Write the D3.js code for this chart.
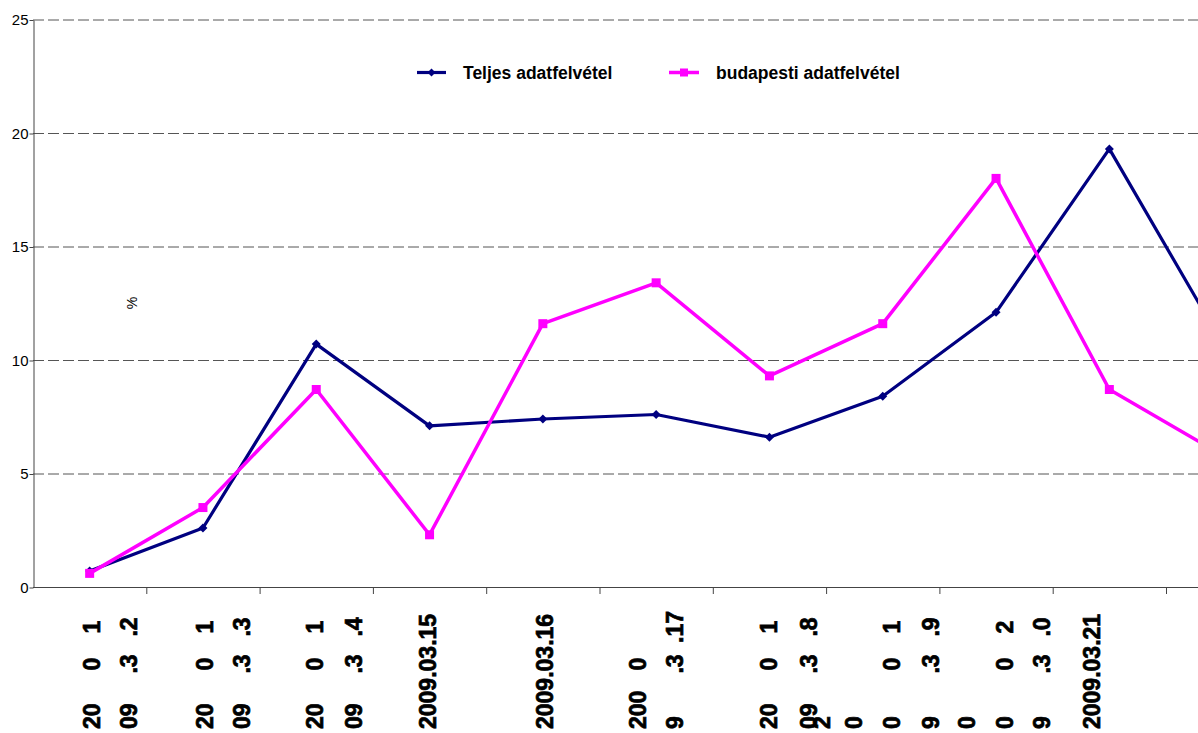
<!DOCTYPE html>
<html>
<head>
<meta charset="utf-8">
<script src="https://cdn.jsdelivr.net/npm/d3@7"></script>
<style>
  html, body { margin: 0; padding: 0; background: #fff; }
  svg { display: block; font-family: "Liberation Sans", Arial, sans-serif; }
</style>
</head>
<body>
<svg width="1198" height="733"></svg>
<script>
/* ===============================
   Data
   =============================== */
const categories = ["2009.03.12", "2009.03.13", "2009.03.14", "2009.03.15", "2009.03.16",
    "2009.03.17", "2009.03.18", "2009.03.19", "2009.03.20", "2009.03.21", "2009.03.22"];

const teljes = [0.7, 2.6, 10.7, 7.1, 7.4, 7.6, 6.6, 8.4, 12.1, 19.3, 10.7];
const budapesti = [0.6, 3.5, 8.7, 2.3, 11.6, 13.4, 9.3, 11.6, 18.0, 8.7, 5.8];

const yTicks = [0, 5, 10, 15, 20, 25];

// broken-up axis labels as they show: each line is [bottom, middle, top]
// (the last category sits outside the picture, so its label is not shown)
const tickLabels = [
    [["20", "0", "1"], ["09", ".3", ".2"]],
    [["20", "0", "1"], ["09", ".3", ".3"]],
    [["20", "0", "1"], ["09", ".3", ".4"]],
    [["2009.03.15"]],
    [["2009.03.16"]],
    [["200", "0"], ["9", ".3", ".17"]],
    [["20", "0", "1"], ["09", ".3", ".8"], ["2"]],
    [["0"], ["0", "0", "1"], ["9", ".3", ".9"]],
    [["0"], ["0", "0", "2"], ["9", ".3", ".0"]],
    [["2009.03.21"]],
    []
];
// baseline offset of every line from the category centre
const labelShift = [[10, 47], [10, 47], [7, 46], [6], [10], [-10, 27], [8, 48, 61],
    [-21, 17, 56], [-21, 17, 54], [-9], []];

const seriesNames = ["Teljes adatfelvétel", "budapesti adatfelvétel"];

/* ===============================
   Scales
   =============================== */
let svg = d3.select("svg");

const left = 33, step = 113.3;
let x = d3.scaleBand()
    .domain(categories)
    .range([left, left + step * categories.length])
    .padding(0);

let y = d3.scaleLinear()
    .domain([0, 25])
    .range([587, 19.5]);

const cx = c => x(c) + x.bandwidth() / 2;

/* ===============================
   Grid lines
   =============================== */
svg.append("g")
    .selectAll("line")
    .data(yTicks.filter(d => d > 0))
    .join("line")
    .attr("x1", left)
    .attr("x2", 1198)
    .attr("y1", d => y(d) + 0.5)
    .attr("y2", d => y(d) + 0.5)
    .attr("stroke", "#555")
    .attr("stroke-width", 1)
    .attr("stroke-dasharray", "11,4");

/* ===============================
   Axes
   =============================== */
let yAxis = svg.append("g")
    .attr("transform", `translate(${left + 0.5},0.5)`)
    .call(d3.axisLeft(y).tickValues(yTicks).tickSize(4).tickSizeOuter(0).tickPadding(1));
yAxis.select(".domain").attr("stroke", "#444");
yAxis.selectAll(".tick line").attr("stroke", "#444");
yAxis.selectAll(".tick text")
    .attr("font-family", "Liberation Sans, Arial, sans-serif")
    .attr("font-size", 15)
    .attr("fill", "#000");

svg.append("line")
    .attr("x1", left)
    .attr("x2", 1198)
    .attr("y1", y(0) + 0.5)
    .attr("y2", y(0) + 0.5)
    .attr("stroke", "#444");

svg.append("g")
    .selectAll("line")
    .data(categories)
    .join("line")
    .attr("x1", d => x(d) + x.bandwidth() + 0.5)
    .attr("x2", d => x(d) + x.bandwidth() + 0.5)
    .attr("y1", y(0))
    .attr("y2", y(0) + 7)
    .attr("stroke", "#444");

/* ===============================
   Category labels (rotated)
   =============================== */
const rowAnchor = ["start", "middle", "middle"];
const rowY = [729, 664, 627];
let labels = svg.append("g")
    .attr("font-weight", "bold")
    .attr("font-size", 23)
    .attr("fill", "#000")
    .attr("stroke", "#000")
    .attr("stroke-width", 0.7);

categories.forEach((c, i) => {
    tickLabels[i].forEach((line, j) => {
        line.forEach((frag, k) => {
            const bx = cx(c) + labelShift[i][j];
            labels.append("text")
                .attr("transform", `translate(${bx},${rowY[k]}) rotate(-90)`)
                .attr("text-anchor", rowAnchor[k])
                .text(frag);
        });
    });
});

/* ===============================
   "%" axis title
   =============================== */
svg.append("text")
    .attr("transform", "translate(137,303) rotate(-90)")
    .attr("text-anchor", "middle")
    .attr("font-size", 14)
    .text("%");

/* ===============================
   Lines and markers
   =============================== */
let lineGen = d3.line()
    .x((d, i) => cx(categories[i]))
    .y(d => y(d));

svg.append("path")
    .datum(teljes)
    .attr("d", lineGen)
    .attr("fill", "none")
    .attr("stroke", "#000080")
    .attr("stroke-width", 3.2)
    .attr("stroke-linejoin", "round");

svg.append("path")
    .datum(budapesti)
    .attr("d", lineGen)
    .attr("fill", "none")
    .attr("stroke", "#ff00ff")
    .attr("stroke-width", 3.5)
    .attr("stroke-linejoin", "round");

svg.append("g")
    .selectAll("path")
    .data(teljes)
    .join("path")
    .attr("transform", (d, i) => `translate(${cx(categories[i])},${y(d)})`)
    .attr("d", "M0,-4.5L4.5,0L0,4.5L-4.5,0Z")
    .attr("fill", "#000080");

svg.append("g")
    .selectAll("rect")
    .data(budapesti)
    .join("rect")
    .attr("x", (d, i) => cx(categories[i]) - 4.5)
    .attr("y", d => y(d) - 4.5)
    .attr("width", 9)
    .attr("height", 9)
    .attr("fill", "#ff00ff");

/* ===============================
   Legend
   =============================== */
let legend = svg.append("g").attr("font-weight", "bold").attr("font-size", 17.5);

legend.append("line")
    .attr("x1", 417).attr("x2", 446)
    .attr("y1", 72.5).attr("y2", 72.5)
    .attr("stroke", "#000080").attr("stroke-width", 3.2);
legend.append("path")
    .attr("transform", "translate(431.5,72.5)")
    .attr("d", "M0,-4L4,0L0,4L-4,0Z")
    .attr("fill", "#000080");
legend.append("text")
    .attr("x", 463).attr("y", 78.5)
    .text(seriesNames[0]);

legend.append("line")
    .attr("x1", 669).attr("x2", 699)
    .attr("y1", 72.5).attr("y2", 72.5)
    .attr("stroke", "#ff00ff").attr("stroke-width", 3.5);
legend.append("rect")
    .attr("x", 680).attr("y", 68.5)
    .attr("width", 8).attr("height", 8)
    .attr("fill", "#ff00ff");
legend.append("text")
    .attr("x", 716).attr("y", 78.5)
    .text(seriesNames[1]);
</script>
</body>
</html>
